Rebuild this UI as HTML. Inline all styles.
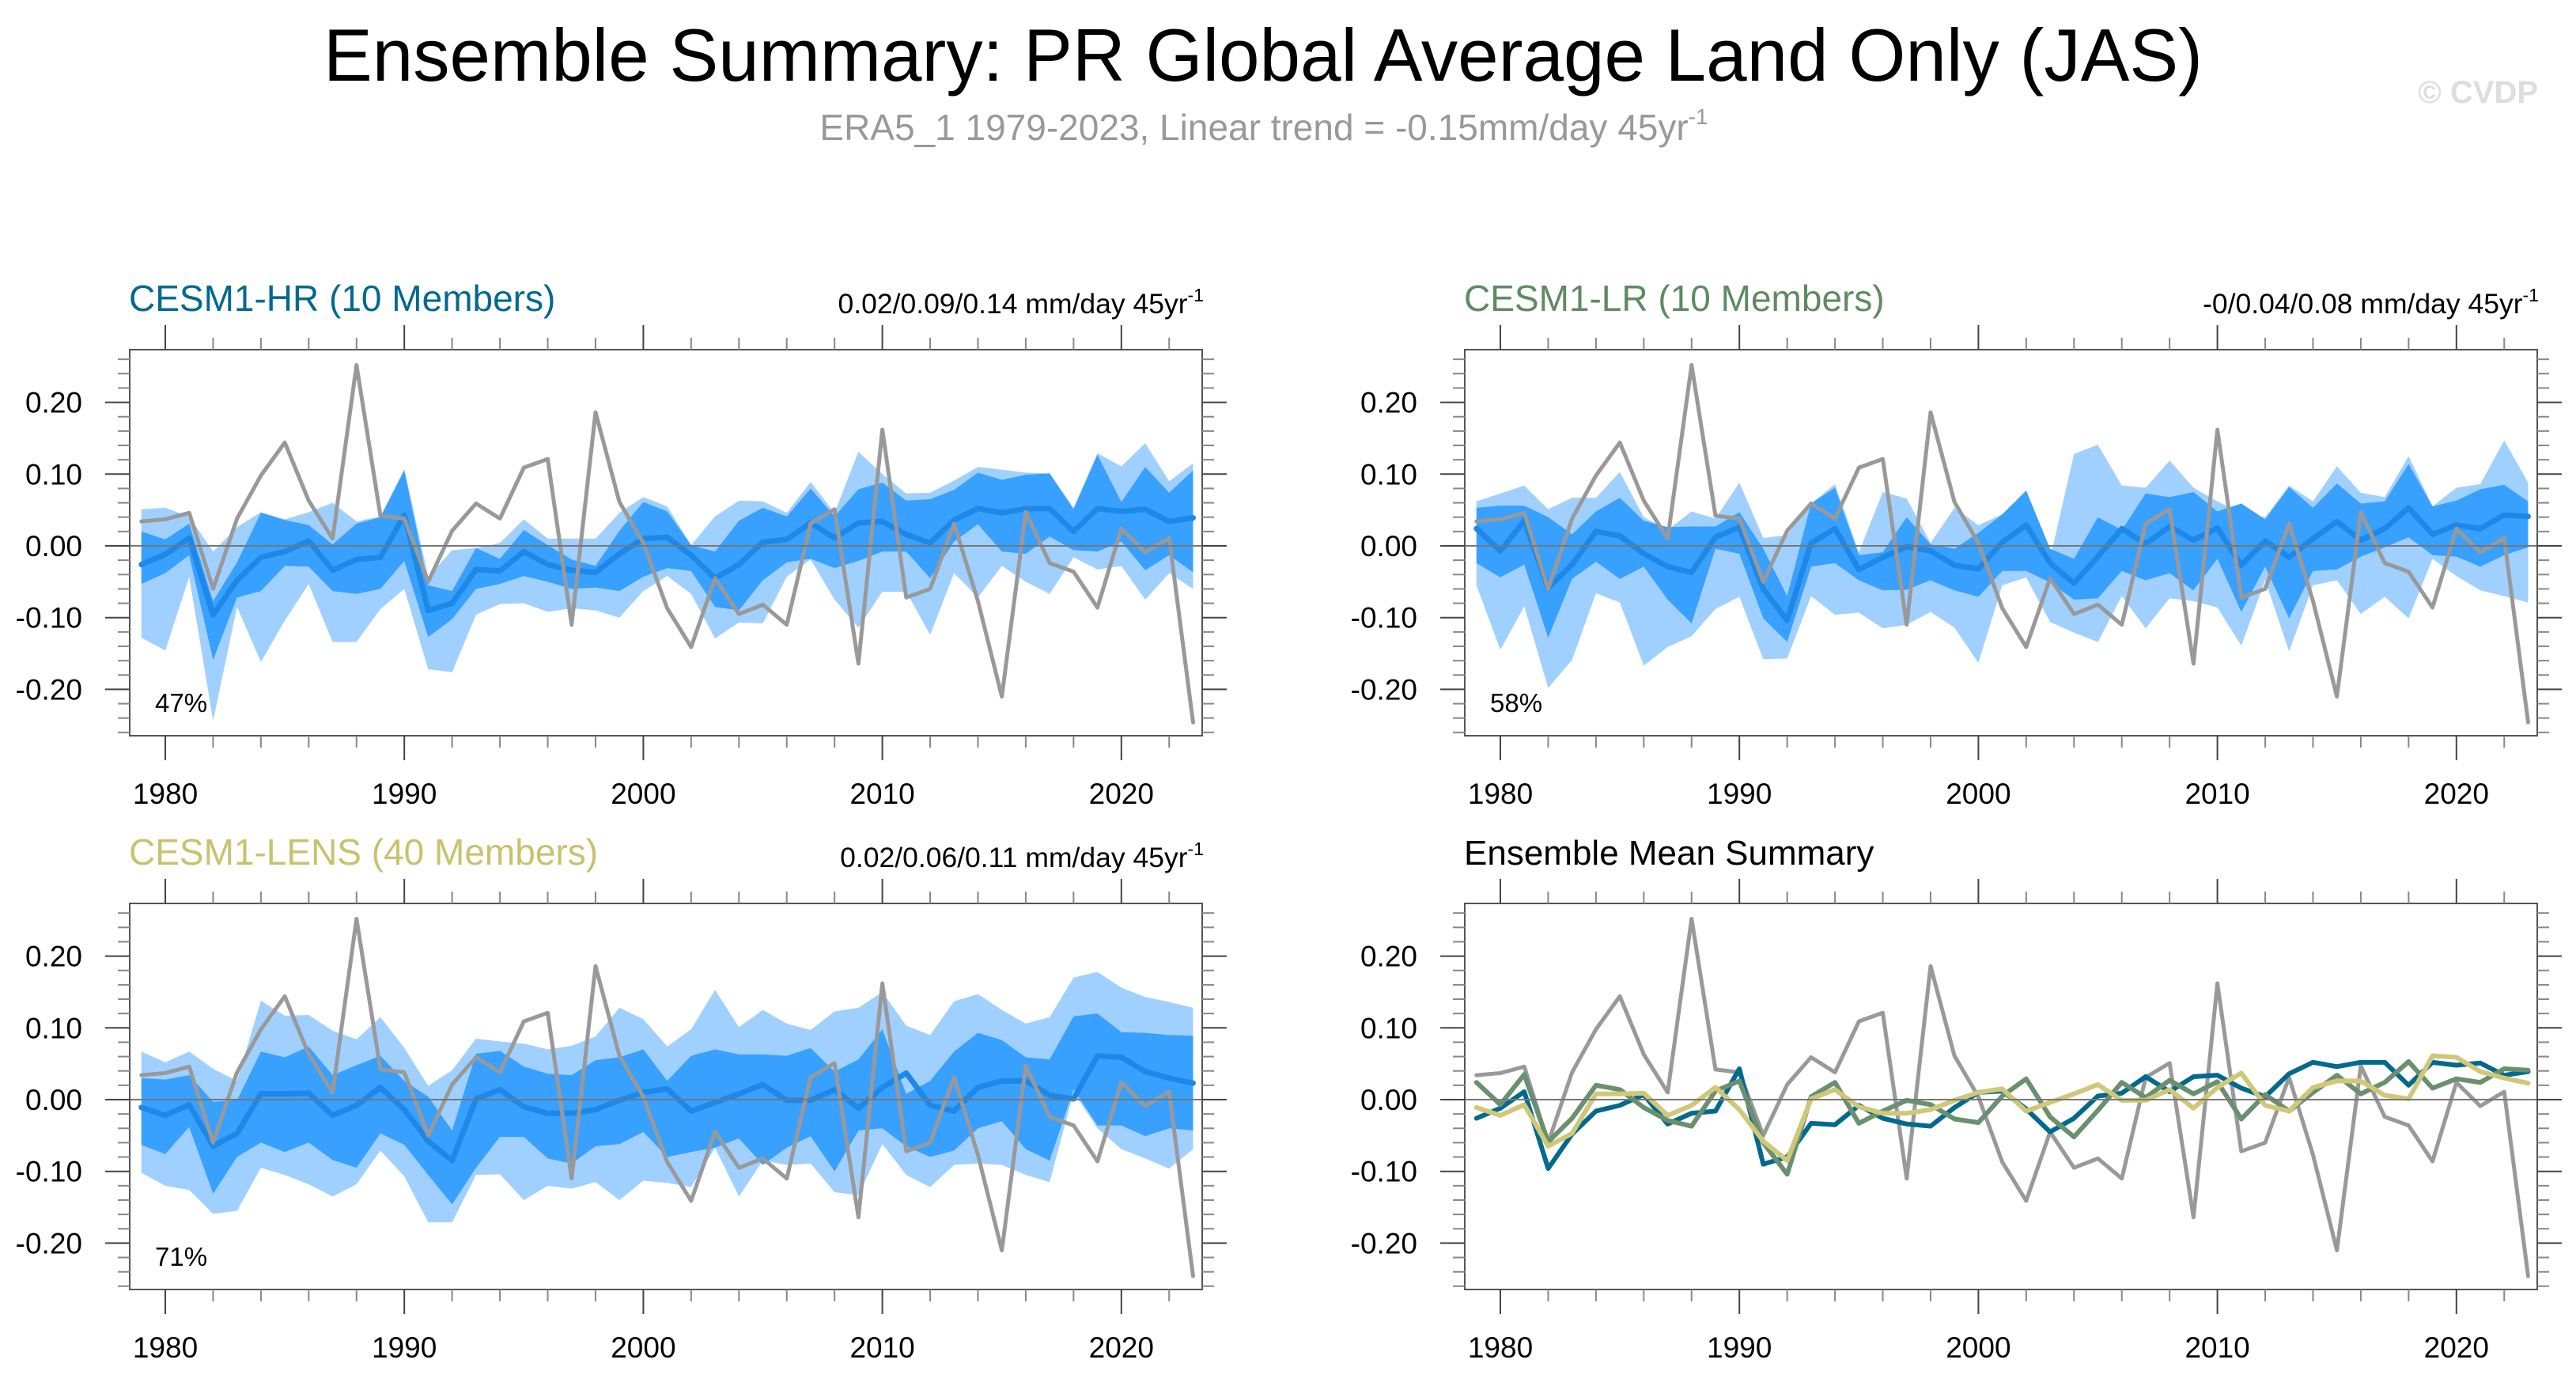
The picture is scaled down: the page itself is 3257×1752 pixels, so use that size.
<!DOCTYPE html>
<html><head><meta charset="utf-8"><style>
html,body{margin:0;padding:0;background:#fff;}
svg{display:block;font-family:"Liberation Sans",Arial,sans-serif;}
</style></head><body>
<svg id="chart" width="3257" height="1752" viewBox="0 0 3257 1752" xmlns="http://www.w3.org/2000/svg">
<text x="1597" y="102" font-size="94" text-anchor="middle" textLength="2376" lengthAdjust="spacingAndGlyphs">Ensemble Summary: PR Global Average Land Only (JAS)</text>
<text x="1598" y="177" font-size="46" fill="#999" text-anchor="middle">ERA5_1 1979-2023, Linear trend = -0.15mm/day 45yr<tspan font-size="28" dy="-20">-1</tspan></text>
<text x="3209" y="130" font-size="40" fill="#ddd" text-anchor="end" font-weight="bold">© CVDP</text>
<g id="panels"></g>
</svg>
<script>
const years = [];
for (let y = 1979; y <= 2023; y++) years.push(y);

const obs = [0.034,0.037,0.046,-0.060,0.038,0.098,0.144,0.063,0.010,0.252,0.042,0.038,-0.050,0.021,0.059,0.038,0.109,0.121,-0.110,0.186,0.061,0.004,-0.087,-0.141,-0.045,-0.095,-0.082,-0.110,0.031,0.051,-0.164,0.162,-0.072,-0.060,0.031,-0.077,-0.210,0.047,-0.024,-0.036,-0.086,0.024,-0.009,0.011,-0.246];

const hrMean = [-0.026,-0.012,0.011,-0.096,-0.048,-0.016,-0.008,0.007,-0.034,-0.019,-0.016,0.043,-0.090,-0.080,-0.033,-0.035,-0.008,-0.026,-0.034,-0.037,-0.011,0.010,0.012,-0.013,-0.045,-0.026,0.005,0.009,0.032,0.011,0.032,0.034,0.016,0.004,0.036,0.052,0.046,0.052,0.052,0.020,0.052,0.048,0.051,0.034,0.039];
const hrDarkHi = [0.020,0.009,0.031,-0.077,-0.023,0.046,0.036,0.029,0.002,0.031,0.040,0.105,-0.055,-0.063,-0.003,-0.018,0.022,0.001,-0.019,-0.028,0.021,0.061,0.048,0.001,-0.008,0.035,0.053,0.041,0.080,0.041,0.079,0.088,0.063,0.065,0.078,0.102,0.092,0.099,0.101,0.051,0.127,0.061,0.110,0.074,0.105];
const hrDarkLo = [-0.053,-0.038,-0.013,-0.159,-0.072,-0.063,-0.028,-0.029,-0.063,-0.067,-0.060,-0.021,-0.127,-0.102,-0.060,-0.053,-0.042,-0.050,-0.060,-0.058,-0.063,-0.043,-0.031,-0.035,-0.085,-0.090,-0.048,-0.023,-0.018,-0.031,-0.021,-0.008,-0.008,-0.045,0.006,0.030,-0.008,-0.011,0.013,-0.006,-0.008,0.006,-0.034,-0.013,-0.037];
const hrLightHi = [0.051,0.053,0.041,-0.008,0.026,0.047,0.037,0.047,0.060,0.034,0.041,0.107,-0.043,-0.006,-0.003,0.004,0.037,0.010,0.010,0.010,0.046,0.068,0.055,0.001,0.041,0.063,0.062,0.046,0.089,0.046,0.131,0.100,0.073,0.074,0.091,0.110,0.106,0.102,0.101,0.053,0.129,0.111,0.143,0.090,0.115];
const hrLightLo = [-0.128,-0.146,-0.043,-0.244,-0.085,-0.162,-0.104,-0.053,-0.134,-0.134,-0.088,-0.060,-0.172,-0.176,-0.096,-0.081,-0.080,-0.092,-0.087,-0.090,-0.100,-0.063,-0.042,-0.067,-0.129,-0.107,-0.108,-0.043,-0.019,-0.075,-0.114,-0.064,-0.064,-0.124,-0.038,-0.072,-0.028,-0.050,-0.067,-0.016,-0.033,-0.028,-0.075,-0.038,-0.060];

const lrMean = [0.024,-0.007,0.035,-0.059,-0.026,0.020,0.014,-0.011,-0.029,-0.037,0.012,0.026,-0.060,-0.104,0.004,0.024,-0.033,-0.016,-0.001,-0.007,-0.027,-0.032,0.005,0.029,-0.024,-0.052,-0.015,0.024,0.003,0.027,0.008,0.025,-0.027,0.007,-0.016,0.010,0.034,0.008,0.024,0.053,0.016,0.029,0.024,0.043,0.041];
const lrDarkHi = [0.053,0.056,0.056,0.040,0.016,0.048,0.067,0.035,0.026,0.027,0.027,0.047,-0.004,-0.070,0.059,0.081,-0.013,-0.009,0.040,0.002,-0.004,0.018,0.044,0.077,-0.004,-0.018,0.040,0.022,0.073,0.068,0.075,0.048,0.059,0.037,0.082,0.053,0.087,0.059,0.062,0.114,0.055,0.063,0.079,0.085,0.062];
const lrDarkLo = [-0.024,-0.044,-0.026,-0.128,-0.046,-0.022,-0.046,-0.029,-0.075,-0.108,-0.004,-0.011,-0.101,-0.134,-0.029,-0.024,-0.048,-0.062,-0.061,-0.048,-0.062,-0.071,-0.035,-0.035,-0.051,-0.075,-0.073,-0.035,-0.048,-0.038,-0.062,-0.018,-0.092,-0.029,-0.101,-0.035,-0.033,-0.015,-0.002,0.012,-0.013,-0.015,-0.029,-0.013,-0.002];
const lrLightHi = [0.062,0.073,0.084,0.051,0.067,0.067,0.103,0.040,0.022,0.048,0.038,0.088,0.011,0.015,0.059,0.086,-0.009,0.075,0.066,0.004,0.053,0.029,0.044,0.057,-0.018,0.128,0.141,0.084,0.081,0.119,0.081,0.062,0.046,0.040,0.084,0.062,0.111,0.074,0.068,0.125,0.055,0.081,0.086,0.147,0.088];
const lrLightLo = [-0.055,-0.145,-0.084,-0.198,-0.159,-0.066,-0.079,-0.167,-0.141,-0.126,-0.088,-0.071,-0.158,-0.157,-0.070,-0.096,-0.093,-0.115,-0.110,-0.092,-0.114,-0.163,-0.055,-0.044,-0.106,-0.121,-0.134,-0.070,-0.115,-0.073,-0.077,-0.086,-0.139,-0.048,-0.147,-0.055,-0.048,-0.095,-0.071,-0.101,-0.018,-0.042,-0.062,-0.070,-0.079];

const lensMean = [-0.011,-0.022,-0.007,-0.065,-0.047,0.008,0.008,0.009,-0.022,-0.008,0.017,-0.014,-0.058,-0.085,0.001,0.014,-0.010,-0.019,-0.019,-0.014,-0.001,0.010,0.015,-0.016,-0.004,0.008,0.021,-0.001,-0.001,0.014,-0.012,0.017,0.037,-0.008,-0.016,0.017,0.026,0.026,0.006,0.001,0.061,0.059,0.039,0.030,0.023];
const lensDarkHi = [0.030,0.028,0.034,-0.003,-0.001,0.067,0.059,0.074,0.034,0.048,0.061,0.026,0.004,-0.043,0.064,0.068,0.046,0.036,0.034,0.055,0.059,0.070,0.026,0.061,0.070,0.063,0.063,0.061,0.072,0.039,0.056,0.098,0.008,0.026,0.067,0.093,0.083,0.059,0.056,0.116,0.120,0.094,0.093,0.090,0.089];
const lensDarkLo = [-0.063,-0.076,-0.038,-0.131,-0.080,-0.060,-0.073,-0.060,-0.084,-0.095,-0.047,-0.063,-0.105,-0.146,-0.095,-0.052,-0.052,-0.082,-0.089,-0.065,-0.062,-0.045,-0.080,-0.073,-0.067,-0.054,-0.091,-0.067,-0.051,-0.100,-0.043,-0.040,-0.065,-0.080,-0.071,-0.040,-0.030,-0.069,-0.085,0.014,-0.036,-0.036,-0.051,-0.040,-0.043];
const lensLightHi = [0.067,0.052,0.067,0.043,0.026,0.138,0.117,0.118,0.096,0.084,0.115,0.072,0.019,0.041,0.085,0.081,0.078,0.070,0.075,0.088,0.128,0.112,0.074,0.098,0.153,0.101,0.125,0.106,0.097,0.123,0.128,0.150,0.103,0.090,0.137,0.147,0.125,0.106,0.115,0.170,0.178,0.156,0.143,0.136,0.128];
const lensLightLo = [-0.102,-0.120,-0.126,-0.159,-0.155,-0.095,-0.105,-0.118,-0.135,-0.118,-0.071,-0.107,-0.171,-0.171,-0.105,-0.104,-0.140,-0.120,-0.124,-0.115,-0.140,-0.113,-0.116,-0.122,-0.067,-0.135,-0.085,-0.091,-0.089,-0.129,-0.133,-0.062,-0.105,-0.122,-0.091,-0.089,-0.091,-0.105,-0.115,0.010,-0.040,-0.069,-0.082,-0.096,-0.069];

const yTicks = [0.2, 0.1, 0.0, -0.1, -0.2];
const yTickLabels = ["0.20", "0.10", "0.00", "-0.10", "-0.20"];
const xTicks = [1980, 1990, 2000, 2010, 2020];

const NS = "http://www.w3.org/2000/svg";
const root = document.getElementById("panels");
function mk(tag, attrs, parent) {
  const e = document.createElementNS(NS, tag);
  for (const k in attrs) e.setAttribute(k, attrs[k]);
  (parent || root).appendChild(e);
  return e;
}

function makePanel(dx, dy, key) {
  const L = 164 + dx, R = 1520 + dx, T = 442 + dy, B = 930 + dy;
  const xs = yr => 209 + dx + (yr - 1980) * 30.22;
  const ys = v => 690 + dy - v * 907;
  const g = mk("g", {});
  
  
  return { L, R, T, B, xs, ys, g, dy };
}

function drawAxes(p, key) {
  const g = p.g;
  for (let i = -13; i <= 13; i++) {
    const v = i * 0.02;
    const y = p.ys(v);
    if (y < p.T + 2 || y > p.B - 2) continue;
    const major = i % 5 === 0;
    const len = major ? 31 : 15;
    const c = major ? "#444" : "#888";
    const t1 = mk("line", {x1: p.L - len, x2: p.L, y1: y, y2: y, stroke: c, "stroke-width": 2}, g);
    
    
    const t2 = mk("line", {x1: p.R, x2: p.R + len, y1: y, y2: y, stroke: c, "stroke-width": 2}, g);
    
    
  }
  yTicks.forEach((v, i) => {
    const t = mk("text", {x: p.L - 60, y: p.ys(v) + 13, "font-size": 37, "text-anchor": "end"}, g);
    t.textContent = yTickLabels[i];
    
    
  });
  for (let yr = 1978; yr <= 2024; yr += 2) {
    const x = p.xs(yr);
    if (x < p.L + 2 || x > p.R - 2) continue;
    const major = yr % 10 === 0;
    const len = major ? 31 : 15;
    const c = major ? "#444" : "#888";
    const a = mk("line", {x1: x, x2: x, y1: p.T - len, y2: p.T, stroke: c, "stroke-width": 2}, g);
    
    
    const b = mk("line", {x1: x, x2: x, y1: p.B, y2: p.B + len, stroke: c, "stroke-width": 2}, g);
    
    
  }
  xTicks.forEach(yr => {
    const t = mk("text", {x: p.xs(yr), y: p.B + 86, "font-size": 37, "text-anchor": "middle"}, g);
    t.textContent = yr;
    
    
  });
}

function band(p, hi, lo, fill, name) {
  let pts = years.map((y, i) => p.xs(y) + "," + p.ys(hi[i]));
  for (let i = years.length - 1; i >= 0; i--) pts.push(p.xs(years[i]) + "," + p.ys(lo[i]));
  const e = mk("polygon", {points: pts.join(" "), fill: fill}, p.g);
  
  
}
function line(p, vals, color, w, name) {
  const pts = years.map((y, i) => p.xs(y) + "," + p.ys(vals[i])).join(" ");
  const e = mk("polyline", {points: pts, fill: "none", stroke: color, "stroke-width": w, "stroke-linejoin": "round", "stroke-linecap": "round"}, p.g);
  
  
}
function zero(p) {
  const e = mk("line", {x1: p.L, x2: p.R, y1: p.ys(0), y2: p.ys(0), stroke: "#777", "stroke-width": 2}, p.g);
  
  
}
function frame(p) {
  const e = mk("rect", {x: p.L, y: p.T, width: p.R - p.L, height: p.B - p.T, fill: "none", stroke: "#555", "stroke-width": 2}, p.g);
  
  
}
function txt(p, s, x, y, size, fill, anchor, name) {
  const e = mk("text", {x: x, y: y, "font-size": size, fill: fill, "text-anchor": anchor}, p.g);
  e.textContent = s;
  
  
  return e;
}
function trendText(p, s, name) {
  const e = mk("text", {x: p.R + 2, y: 396 + p.dy, "font-size": 35.5, "text-anchor": "end"}, p.g);
  
  
  e.appendChild(document.createTextNode(s));
  const sup = document.createElementNS(NS, "tspan");
  sup.setAttribute("font-size", 23);
  sup.setAttribute("dy", -15);
  sup.textContent = "-1";
  e.appendChild(sup);
}

function ensemblePanel(dx, dy, key, title, color, trend, pct, mean, dHi, dLo, lHi, lLo) {
  const p = makePanel(dx, dy, key);
  band(p, lHi, lLo, "#a0d0ff", "light-spread-band");
  band(p, dHi, dLo, "#38a0ff", "dark-spread-band");
  line(p, mean, "#1e88e8", 7, "ensemble-mean-line");
  line(p, obs, "#999", 5, "observed-line");
  zero(p);
  frame(p);
  drawAxes(p, key);
  txt(p, title, p.L - 1, 393 + dy, 46, color, "start", "panel-title");
  trendText(p, trend, "trend-range-label");
  txt(p, pct, p.L + 32, 900 + dy, 33, "#000", "start", "percent-label");
}

ensemblePanel(0, 0, "cesm1-hr", "CESM1-HR (10 Members)", "#00698f", "0.02/0.09/0.14 mm/day 45yr", "47%", hrMean, hrDarkHi, hrDarkLo, hrLightHi, hrLightLo);
ensemblePanel(1688, 0, "cesm1-lr", "CESM1-LR (10 Members)", "#5f8a62", "-0/0.04/0.08 mm/day 45yr", "58%", lrMean, lrDarkHi, lrDarkLo, lrLightHi, lrLightLo);
ensemblePanel(0, 700, "cesm1-lens", "CESM1-LENS (40 Members)", "#c8c26e", "0.02/0.06/0.11 mm/day 45yr", "71%", lensMean, lensDarkHi, lensDarkLo, lensLightHi, lensLightLo);

(function(){
  const p = makePanel(1688, 700, "ensemble-mean-summary");
  line(p, obs, "#999", 5, "observed-line");
  line(p, hrMean, "#006a8e", 6, "hr-mean-line");
  line(p, lrMean, "#6a9070", 6, "lr-mean-line");
  line(p, lensMean, "#d0c878", 6, "lens-mean-line");
  zero(p);
  frame(p);
  drawAxes(p, "summary");
  txt(p, "Ensemble Mean Summary", p.L - 1, 1093, 44, "#000", "start", "panel-title");
})();
</script>
</body></html>
